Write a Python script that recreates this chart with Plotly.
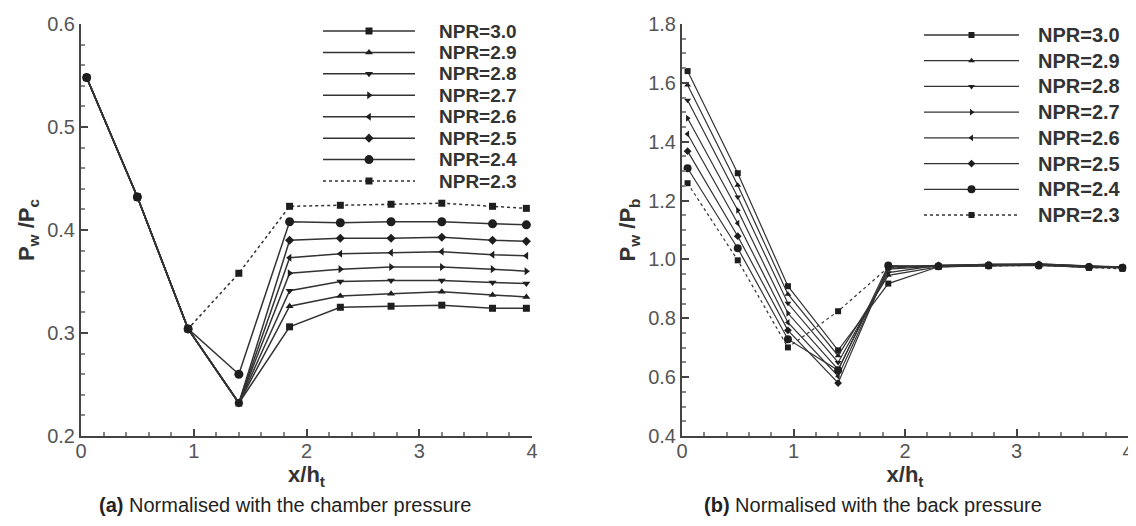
import plotly.graph_objects as go

# ---------------- data ----------------
x_pos = [0.05, 0.5, 0.95, 1.4, 1.85, 2.3, 2.75, 3.2, 3.65, 3.95]

npr_labels = ["NPR=3.0", "NPR=2.9", "NPR=2.8", "NPR=2.7",
              "NPR=2.6", "NPR=2.5", "NPR=2.4", "NPR=2.3"]

# (a) Pw/Pc
pc_npr30 = [0.548, 0.432, 0.304, 0.232, 0.306, 0.325, 0.326, 0.327, 0.324, 0.324]
pc_npr29 = [0.548, 0.432, 0.304, 0.232, 0.326, 0.336, 0.338, 0.340, 0.337, 0.335]
pc_npr28 = [0.548, 0.432, 0.304, 0.232, 0.341, 0.350, 0.351, 0.351, 0.349, 0.348]
pc_npr27 = [0.548, 0.432, 0.304, 0.232, 0.358, 0.362, 0.364, 0.364, 0.362, 0.360]
pc_npr26 = [0.548, 0.432, 0.304, 0.232, 0.373, 0.377, 0.378, 0.379, 0.376, 0.375]
pc_npr25 = [0.548, 0.432, 0.304, 0.232, 0.390, 0.392, 0.392, 0.393, 0.390, 0.389]
pc_npr24 = [0.548, 0.432, 0.304, 0.260, 0.408, 0.407, 0.408, 0.408, 0.406, 0.405]
pc_npr23 = [0.548, 0.432, 0.304, 0.358, 0.423, 0.424, 0.425, 0.426, 0.423, 0.421]

# (b) Pw/Pb
pb_npr30 = [1.640, 1.293, 0.909, 0.691, 0.918, 0.975, 0.978, 0.981, 0.972, 0.972]
pb_npr29 = [1.593, 1.252, 0.882, 0.673, 0.946, 0.975, 0.980, 0.985, 0.977, 0.972]
pb_npr28 = [1.541, 1.212, 0.851, 0.650, 0.955, 0.980, 0.983, 0.983, 0.977, 0.974]
pb_npr27 = [1.480, 1.167, 0.817, 0.626, 0.967, 0.977, 0.983, 0.983, 0.977, 0.972]
pb_npr26 = [1.426, 1.123, 0.786, 0.603, 0.970, 0.980, 0.983, 0.985, 0.978, 0.975]
pb_npr25 = [1.368, 1.079, 0.759, 0.580, 0.975, 0.980, 0.980, 0.983, 0.975, 0.972]
pb_npr24 = [1.310, 1.038, 0.729, 0.623, 0.979, 0.977, 0.979, 0.979, 0.974, 0.972]
pb_npr23 = [1.259, 0.997, 0.701, 0.824, 0.973, 0.975, 0.978, 0.980, 0.973, 0.968]

pc_series = [pc_npr30, pc_npr29, pc_npr28, pc_npr27, pc_npr26, pc_npr25, pc_npr24, pc_npr23]
pb_series = [pb_npr30, pb_npr29, pb_npr28, pb_npr27, pb_npr26, pb_npr25, pb_npr24, pb_npr23]

# ---------------- styles ----------------
symbols = ["square", "triangle-up", "triangle-down", "triangle-right",
           "triangle-left", "diamond", "circle", "square"]
sizes = [7, 7, 7, 7, 7, 7, 9, 7]
dashes = ["solid"] * 7 + ["dot"]
LINE_C = "#333333"
MARK_C = "#1e1e1e"
FONT = "Liberation Sans, Arial, sans-serif"

# the page adds an 8px body margin, so the figure is 8px smaller and layout
# positions (given in window pixels) are shifted by that margin
OFF = 8
FW, FH = 1136 - OFF, 526 - OFF


def px(x):
    return (x - OFF) / FW


def py(y):
    return 1 - (y - OFF) / FH


fig = go.Figure()

for i, name in enumerate(npr_labels):
    fig.add_trace(go.Scatter(
        x=x_pos, y=pc_series[i], mode="lines+markers", name=name,
        line=dict(color=LINE_C, width=1.5, dash=dashes[i]),
        marker=dict(symbol=symbols[i], size=sizes[i], color=MARK_C),
        xaxis="x", yaxis="y", showlegend=False,
    ))
for i, name in enumerate(npr_labels):
    fig.add_trace(go.Scatter(
        x=x_pos, y=pb_series[i], mode="lines+markers", name=name,
        line=dict(color=LINE_C, width=1.2, dash=dashes[i]),
        marker=dict(symbol=symbols[i], size=sizes[i] - 1, color=MARK_C),
        xaxis="x2", yaxis="y2", showlegend=False,
    ))

# ---------------- legends (long line keys as in the reference) ----------------
KEY_LINE_X = [0, 1]
KEY_MARK_X = [0.5]
legend_specs = [
    # key axes, marker size offset, line width, text x, first row y, last row y, font size
    ("x3", "y3", 0, 1.5, 437, 31, 181, 19),
    ("x4", "y4", -1, 1.3, 1036, 35, 215, 20),
]
annotations = []
for (xa, ya, moff, lw, tx, r0, r1, fsize) in legend_specs:
    step = (r1 - r0) / (len(npr_labels) - 1)
    for i, name in enumerate(npr_labels):
        fig.add_trace(go.Scatter(
            x=KEY_LINE_X, y=[i, i], mode="lines", name=name,
            line=dict(color=LINE_C, width=lw, dash=dashes[i]),
            xaxis=xa, yaxis=ya, showlegend=False, hoverinfo="skip", cliponaxis=False,
        ))
        fig.add_trace(go.Scatter(
            x=KEY_MARK_X, y=[i], mode="markers", name=name,
            marker=dict(symbol=symbols[i], size=sizes[i] + moff, color=MARK_C),
            xaxis=xa, yaxis=ya, showlegend=False, hoverinfo="skip", cliponaxis=False,
        ))
        annotations.append(dict(
            text=name, xref="paper", yref="paper", x=px(tx), y=py(r0 + i * step),
            xanchor="left", yanchor="middle", showarrow=False,
            font=dict(family=FONT, size=fsize, color="#333333", weight="bold")))

axis_common = dict(
    showline=True, linecolor="#444444", linewidth=2, automargin=False,
    ticks="inside", ticklen=7, tickwidth=1.5, tickcolor="#444444",
    showgrid=False, zeroline=False, mirror=False,
    tickfont=dict(family=FONT, size=20, color="#555555"),
)
hidden = dict(visible=False, showgrid=False, zeroline=False, automargin=False)
title_font = dict(family=FONT, size=22, color="#333333")
minor_x = dict(ticks="inside", ticklen=4, dtick=0.2, tickcolor="#888888")

annotations += [
    dict(text="<b>(a)</b> Normalised with the chamber pressure",
         xref="paper", yref="paper", x=px(285), y=py(505),
         xanchor="center", yanchor="middle", showarrow=False,
         font=dict(family=FONT, size=20, color="#222222")),
    dict(text="<b>(b)</b> Normalised with the back pressure",
         xref="paper", yref="paper", x=px(873), y=py(505),
         xanchor="center", yanchor="middle", showarrow=False,
         font=dict(family=FONT, size=20, color="#222222")),
]

y_dom = [py(436), py(24)]

fig.update_layout(
    width=FW, height=FH,
    margin=dict(l=0, r=0, t=0, b=0, autoexpand=False),
    paper_bgcolor="white", plot_bgcolor="white",
    font=dict(family=FONT, color="#333333"),
    showlegend=False,
    xaxis=dict(domain=[px(81), px(532)], range=[0, 4], dtick=1, anchor="y",
               minor=minor_x, ticklabelstandoff=-4,
               title=dict(text="<b>x/h<sub>t</sub></b>", standoff=0, font=title_font),
               **axis_common),
    yaxis=dict(domain=y_dom, range=[0.2, 0.6], dtick=0.1, tickformat=".1f", anchor="x",
               minor=dict(ticks="inside", ticklen=4, dtick=0.02, tickcolor="#888888"),
               title=dict(text="<b>P<sub>w</sub> /P<sub>c</sub></b>", standoff=6,
                          font=title_font),
               **axis_common),
    xaxis2=dict(domain=[px(682), px(1128)], range=[0, 4], dtick=1, anchor="y2",
                minor=minor_x, ticklabelstandoff=-4,
                title=dict(text="<b>x/h<sub>t</sub></b>", standoff=0, font=title_font),
                **axis_common),
    yaxis2=dict(domain=y_dom, range=[0.4, 1.8], dtick=0.2, tickformat=".1f", anchor="x2",
                minor=dict(ticks="inside", ticklen=4, dtick=0.05, tickcolor="#888888"),
                title=dict(text="<b>P<sub>w</sub> /P<sub>b</sub></b>", standoff=6,
                           font=title_font),
                **axis_common),
    # legend key areas (one row per entry, half a row of padding at each end)
    xaxis3=dict(domain=[px(323), px(415)], range=[0, 1], anchor="y3", **hidden),
    yaxis3=dict(domain=[py(181 + 150 / 14), py(31 - 150 / 14)], range=[7.5, -0.5],
                anchor="x3", **hidden),
    xaxis4=dict(domain=[px(924), px(1019)], range=[0, 1], anchor="y4", **hidden),
    yaxis4=dict(domain=[py(215 + 180 / 14), py(35 - 180 / 14)], range=[7.5, -0.5],
                anchor="x4", **hidden),
    annotations=annotations,
)

fig.write_html("out.html")
